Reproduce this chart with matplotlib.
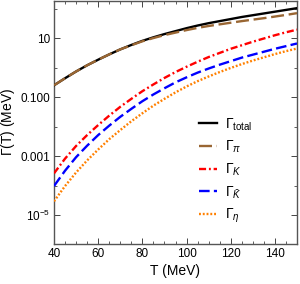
import numpy as np
import matplotlib
matplotlib.use("Agg")
import matplotlib.pyplot as plt
from matplotlib.ticker import FixedLocator, MultipleLocator, FixedFormatter

plt.rcParams['font.family'] = ['Liberation Sans', 'DejaVu Sans']
plt.rcParams['mathtext.fontset'] = 'custom'
plt.rcParams['mathtext.rm'] = 'Liberation Sans'
plt.rcParams['mathtext.it'] = 'Liberation Sans:italic'
plt.rcParams['mathtext.bf'] = 'Liberation Sans:bold'

# Temperature grid (MeV)
T = [40, 45, 50, 55, 60, 65, 70, 75, 80, 85, 90, 95, 100,
     105, 110, 115, 120, 125, 130, 135, 140, 145, 150]

# log10 of widths (MeV)
log_total = [-0.59, -0.35, -0.12, 0.09, 0.28, 0.46, 0.63, 0.78, 0.92, 1.04, 1.15, 1.25, 1.35,
             1.44, 1.52, 1.59, 1.66, 1.73, 1.79, 1.85, 1.91, 1.97, 2.03]
log_pion = [-0.59, -0.35, -0.12, 0.09, 0.28, 0.46, 0.63, 0.77, 0.905, 1.015, 1.115, 1.20, 1.285,
            1.36, 1.425, 1.48, 1.535, 1.59, 1.64, 1.69, 1.745, 1.80, 1.86]
log_kaon = [-3.58, -3.08, -2.65, -2.28, -1.94, -1.62, -1.32, -1.05, -0.79, -0.56, -0.34, -0.14, 0.04,
            0.21, 0.37, 0.51, 0.65, 0.77, 0.89, 1.00, 1.11, 1.21, 1.30]
log_antikaon = [-4.01, -3.49, -3.03, -2.64, -2.28, -1.96, -1.66, -1.39, -1.13, -0.90, -0.69, -0.49, -0.32,
                -0.16, -0.02, 0.11, 0.23, 0.35, 0.45, 0.55, 0.65, 0.74, 0.83]
log_eta = [-4.53, -4.01, -3.55, -3.14, -2.77, -2.42, -2.11, -1.81, -1.54, -1.28, -1.05, -0.83, -0.63,
           -0.45, -0.29, -0.14, 0.00, 0.13, 0.25, 0.36, 0.47, 0.57, 0.66]

ytick_vals = [1e-5, 1e-3, 1e-1, 10]
ytick_labels = [r'$10^{-5}$', '0.001', '0.100', '10']
xtick_vals = [40, 60, 80, 100, 120, 140]

fig = plt.figure(figsize=(3.0, 2.84), dpi=100)
ax = fig.add_axes([54/300, 1-244/284, (297-54)/300, (244-0.5)/284])

lw = 1.7
ax.plot(T, 10**np.array(log_total), color='black', lw=lw, label=r'$\Gamma_{\mathrm{total}}$', zorder=3)
ax.plot(T, 10**np.array(log_pion), color=(0.6, 0.4, 0.2), lw=lw, dashes=(5.5, 2.0),
        label=r'$\Gamma_{\pi}$', zorder=4)
ax.plot(T, 10**np.array(log_kaon), color='red', lw=lw, dashes=(3.0, 1.2, 0.8, 1.2),
        label=r'$\Gamma_{K}$', zorder=3)
ax.plot(T, 10**np.array(log_antikaon), color='blue', lw=lw, dashes=(4.5, 1.8),
        label=r'$\Gamma_{\bar{K}}$', zorder=3)
ax.plot(T, 10**np.array(log_eta), color=(1.0, 0.5, 0.0), lw=lw, dashes=(0.8, 0.8),
        label=r'$\Gamma_{\eta}$', zorder=3)

ax.set_yscale('log')
ax.set_xlim(40, 150)
ax.set_ylim(1.05e-6, 195)

ax.yaxis.set_major_locator(FixedLocator(ytick_vals))
ax.yaxis.set_major_formatter(FixedFormatter(ytick_labels))
ax.yaxis.set_minor_locator(FixedLocator([1e-6, 1e-4, 1e-2, 1, 100]))
ax.yaxis.set_minor_formatter(FixedFormatter([]))
ax.xaxis.set_major_locator(FixedLocator(xtick_vals))
ax.xaxis.set_minor_locator(MultipleLocator(5))

ax.tick_params(which='both', direction='in', top=True, right=True, labelsize=8.5,
               color='#444444', pad=3)
ax.tick_params(which='major', length=4, width=0.7)
ax.tick_params(which='minor', length=2.5, width=0.6)
for s in ax.spines.values():
    s.set_color('#555555')
    s.set_linewidth(1.0)

ax.set_xlabel('T (MeV)', fontsize=10, labelpad=3)
ax.set_ylabel(r'$\Gamma$(T) (MeV)', fontsize=10, labelpad=2)

leg = ax.legend(loc='upper left', bbox_to_anchor=(0.595, 0.525), frameon=False, fontsize=10,
                handlelength=1.3, handletextpad=0.6, labelspacing=0.45,
                borderaxespad=0.0, borderpad=0.0)

fig.savefig('out.png', dpi=100)
